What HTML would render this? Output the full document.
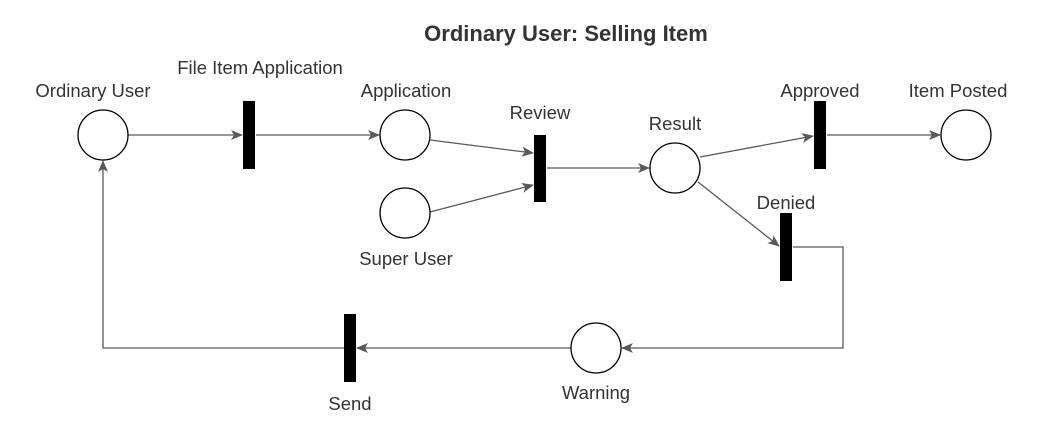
<!DOCTYPE html>
<html><head><meta charset="utf-8"><style>
html,body{margin:0;padding:0;background:#fff;}
svg text{font-family:"Liberation Sans",Arial,sans-serif;fill:#333;font-size:18.5px;text-anchor:middle;}
</style></head><body>
<svg width="1043" height="435" viewBox="0 0 1043 435" xmlns="http://www.w3.org/2000/svg">
<defs><marker id="a" markerWidth="12" markerHeight="10" refX="11" refY="5" orient="auto" markerUnits="userSpaceOnUse"><path d="M0,0 L12,5 L0,10 L3,5 Z" fill="#595959"/></marker></defs>
<text x="566" y="41" style="font-weight:bold;font-size:22px">Ordinary User: Selling Item</text>
<g stroke="#595959" stroke-width="1.3" fill="none" marker-end="url(#a)">
<line x1="128" y1="135" x2="242" y2="135"/>
<line x1="256" y1="135" x2="379" y2="135"/>
<line x1="430" y1="140" x2="533" y2="153"/>
<line x1="430" y1="212" x2="533" y2="185"/>
<line x1="547" y1="168" x2="649" y2="168"/>
<line x1="700" y1="157" x2="813" y2="136"/>
<line x1="827" y1="135" x2="940" y2="135"/>
<line x1="698" y1="182" x2="779" y2="246"/>
<polyline points="793,247 843,247 843,348 622,348"/>
<line x1="571" y1="348" x2="357" y2="348"/>
<polyline points="344,348 103,348 103,161"/>
</g>
<g stroke="#000" stroke-width="1.3" fill="#fff">
<circle cx="103" cy="135" r="25"/>
<circle cx="405" cy="135" r="25"/>
<circle cx="405" cy="213" r="25"/>
<circle cx="675" cy="168" r="25"/>
<circle cx="966" cy="135" r="25"/>
<circle cx="596" cy="348" r="25"/>
</g>
<g fill="#000">
<rect x="243" y="101" width="12" height="68"/>
<rect x="534" y="135" width="12" height="67"/>
<rect x="814" y="101" width="12" height="68"/>
<rect x="780" y="213" width="12" height="68"/>
<rect x="344" y="314" width="12" height="68"/>
</g>
<text x="93" y="97">Ordinary User</text>
<text x="260" y="74">File Item Application</text>
<text x="406" y="97">Application</text>
<text x="540" y="119">Review</text>
<text x="675" y="130">Result</text>
<text x="820" y="97">Approved</text>
<text x="958" y="97">Item Posted</text>
<text x="786" y="209">Denied</text>
<text x="406" y="265">Super User</text>
<text x="596" y="399">Warning</text>
<text x="350" y="410">Send</text>
</svg>
</body></html>
